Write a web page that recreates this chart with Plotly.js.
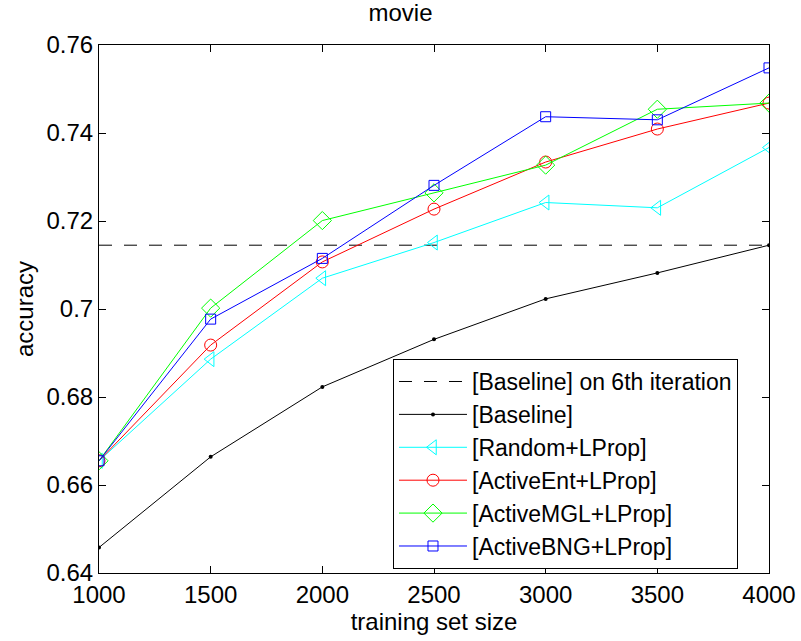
<!DOCTYPE html>
<html>
<head>
<meta charset="utf-8">
<script src="https://cdn.plot.ly/plotly-3.0.1.min.js"></script>
<style>html,body{margin:0;padding:0;background:#fff;}#chart{width:801px;height:641px;}</style>
</head>
<body>
<div id="chart"></div>
<script>
const trainingSize = [1000, 1500, 2000, 2500, 3000, 3500, 4000];
const baseline    = [0.6458, 0.6664, 0.6823, 0.6931, 0.7023, 0.7082, 0.7145];
const randomLProp = [0.6655, 0.6886, 0.7070, 0.7151, 0.7242, 0.7230, 0.7367];
const activeEnt   = [0.6655, 0.6918, 0.7107, 0.7227, 0.7334, 0.7409, 0.7468];
const activeMGL   = [0.6655, 0.7002, 0.7201, 0.7264, 0.7327, 0.7454, 0.7468];
const activeBNG   = [0.6655, 0.6977, 0.7115, 0.7281, 0.7437, 0.7430, 0.7548];
const baseline6thX = [1000, 4000];
const baseline6th  = [0.7145, 0.7145];

const xTicks = [1000, 1500, 2000, 2500, 3000, 3500, 4000];
const xTickText = ['1000', '1500', '2000', '2500', '3000', '3500', '4000'];
const yTicks = [0.64, 0.66, 0.68, 0.70, 0.72, 0.74, 0.76];
const yTickText = ['0.64', '0.66', '0.68', '0.7', '0.72', '0.74', '0.76'];

const FONT = 'Liberation Sans, Arial, Helvetica, sans-serif';

const traces = [
  {x: baseline6thX, y: baseline6th, name: '[Baseline] on 6th iteration', mode: 'lines',
   line: {color: '#000000', width: 1, dash: '13px,12px'}},
  {x: trainingSize, y: baseline, name: '[Baseline]', mode: 'lines+markers',
   line: {color: '#000000', width: 1}, marker: {symbol: 'circle', size: 4, color: '#000000'}},
  {x: trainingSize, y: randomLProp, name: '[Random+LProp]', mode: 'lines+markers',
   line: {color: '#00ffff', width: 1}, marker: {symbol: 'triangle-left-open', size: 13, color: '#00ffff', line: {width: 1}}},
  {x: trainingSize, y: activeEnt, name: '[ActiveEnt+LProp]', mode: 'lines+markers',
   line: {color: '#ff0000', width: 1}, marker: {symbol: 'circle-open', size: 12, color: '#ff0000', line: {width: 1}}},
  {x: trainingSize, y: activeMGL, name: '[ActiveMGL+LProp]', mode: 'lines+markers',
   line: {color: '#00ff00', width: 1}, marker: {symbol: 'diamond-open', size: 14, color: '#00ff00', line: {width: 1}}},
  {x: trainingSize, y: activeBNG, name: '[ActiveBNG+LProp]', mode: 'lines+markers',
   line: {color: '#0000ff', width: 1}, marker: {symbol: 'square-open', size: 10, color: '#0000ff', line: {width: 1}}}
];

const axisCommon = {
  showline: true, linecolor: '#000000', linewidth: 1, mirror: 'ticks',
  ticks: 'inside', ticklen: 7, tickcolor: '#000000', tickwidth: 1,
  showgrid: false, zeroline: false,
  tickfont: {family: FONT, size: 24, color: '#000000'}
};

const layout = {
  width: 801, height: 641,
  paper_bgcolor: '#ffffff', plot_bgcolor: '#ffffff',
  margin: {l: 99, r: 32, t: 45, b: 68},
  font: {family: FONT, size: 24, color: '#000000'},
  title: {text: 'movie', font: {family: FONT, size: 24, color: '#000000'}, x: 0.5, xanchor: 'center', y: 0.98, yanchor: 'middle'},
  xaxis: Object.assign({}, axisCommon, {
    range: [1000, 4000], tickvals: xTicks, ticktext: xTickText,
    title: {text: 'training set size', font: {family: FONT, size: 24, color: '#000000'}, standoff: 3}
  }),
  yaxis: Object.assign({}, axisCommon, {
    range: [0.64, 0.76], tickvals: yTicks, ticktext: yTickText,
    title: {text: 'accuracy', font: {family: FONT, size: 24, color: '#000000'}, standoff: 6}
  }),
  showlegend: true,
  legend: {
    x: 0.4388, y: 0.0075, xanchor: 'left', yanchor: 'bottom',
    bgcolor: '#ffffff', bordercolor: '#000000', borderwidth: 1,
    font: {family: FONT, size: 23, color: '#000000'},
    itemwidth: 68, tracegroupgap: 0, traceorder: 'normal'
  }
};

Plotly.newPlot('chart', traces, layout, {displayModeBar: false, staticPlot: true});
</script>
</body>
</html>
